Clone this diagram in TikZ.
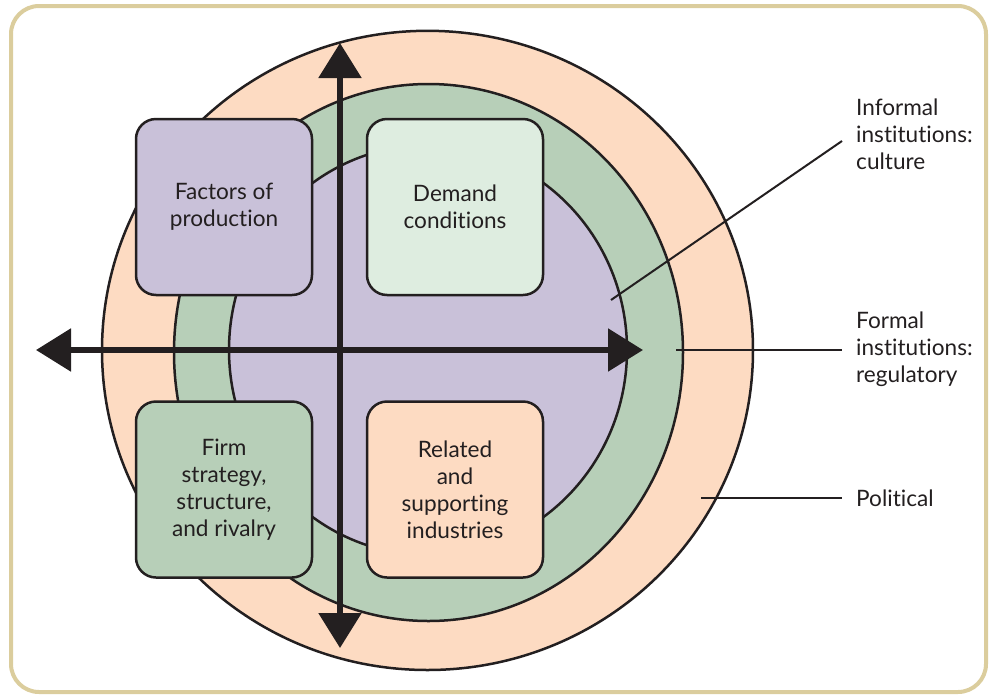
\documentclass[tikz,border=0pt]{standalone}
\usepackage{fontspec}
\setmainfont{Lato}[Ligatures=NoCommon]
\usetikzlibrary{arrows.meta,positioning}
\definecolor{peach}{RGB}{253,219,194}
\definecolor{sage}{RGB}{183,207,184}
\definecolor{lilac}{RGB}{201,193,217}
\definecolor{mint}{RGB}{222,237,224}
\definecolor{framegold}{RGB}{219,205,157}
\definecolor{ink}{RGB}{35,31,32}
\tikzset{
    ring/.style={draw=ink, line width=2.5pt, fill=#1},
    fbox/.style={draw=ink, line width=2.5pt, rounded corners=20pt,
                 fill=#1, minimum width=176pt, minimum height=176pt,
                 inner sep=0pt, align=center, text=ink,
                 font=\fontsize{22.6}{27}\selectfont},
    lbl/.style={anchor=west, align=left, text=ink, inner xsep=14pt,
                font=\fontsize{22.6}{27}\selectfont},
}

\begin{document}
\begin{tikzpicture}[
    x=1pt, y=-1pt,
    axis/.style={{Triangle[length=35pt,width=42pt]}-{Triangle[length=35pt,width=42pt]},
                 line width=5.5pt, draw=ink},
    lead/.style={draw=ink, line width=2pt}
]
    \useasboundingbox (0,0) rectangle (989,697);
    \draw[framegold, line width=4pt, rounded corners=28pt] (11,6) rectangle (986,692);

    % institutional rings
    \draw[ring=peach] (427.5,350.4) ellipse [x radius=325.5pt, y radius=319.6pt];
    \draw[ring=sage] (428.5,352.5) ellipse [x radius=254.5pt, y radius=268.5pt];
    \draw[ring=lilac] (428,350) ellipse [x radius=199pt, y radius=205pt];

    % the four determinants
    \node[fbox=lilac] (fop) at (224,207) {Factors of\\production};
    \node[fbox=mint] (dem) at (455,207) {Demand\\conditions};
    \node[fbox=sage] (firm) at (224,489.5) {Firm\\strategy,\\structure,\\and rivalry};
    \node[fbox=peach] (rel) at (455,489.5) {Related\\and\\supporting\\industries};

    % axes
    \coordinate (ntop) at (340,43);
    \coordinate (nbot) at (340,648);
    \coordinate (wleft) at (36,350);
    \coordinate (eright) at (643,350);
    \draw[axis] (ntop) -- (nbot);
    \draw[axis] (wleft) -- (eright);

    % labels
    \node[lbl] (lblinf) at (842,134) {Informal\\institutions:\\culture};
    \node[lbl] (lblform) at (842,349) {Formal\\institutions:\\regulatory};
    \node[lbl] (lblpol) at (842,498) {Political};

    \coordinate (pinf) at (611,300);
    \coordinate (pform) at (676,350);
    \coordinate (ppol) at (701,498);
    \draw[lead] (pinf) -- ([yshift=-7pt]lblinf.west);
    \draw[lead] (pform) -- ([yshift=-1pt]lblform.west);
    \draw[lead] (ppol) -- (lblpol.west);
\end{tikzpicture}
\end{document}
